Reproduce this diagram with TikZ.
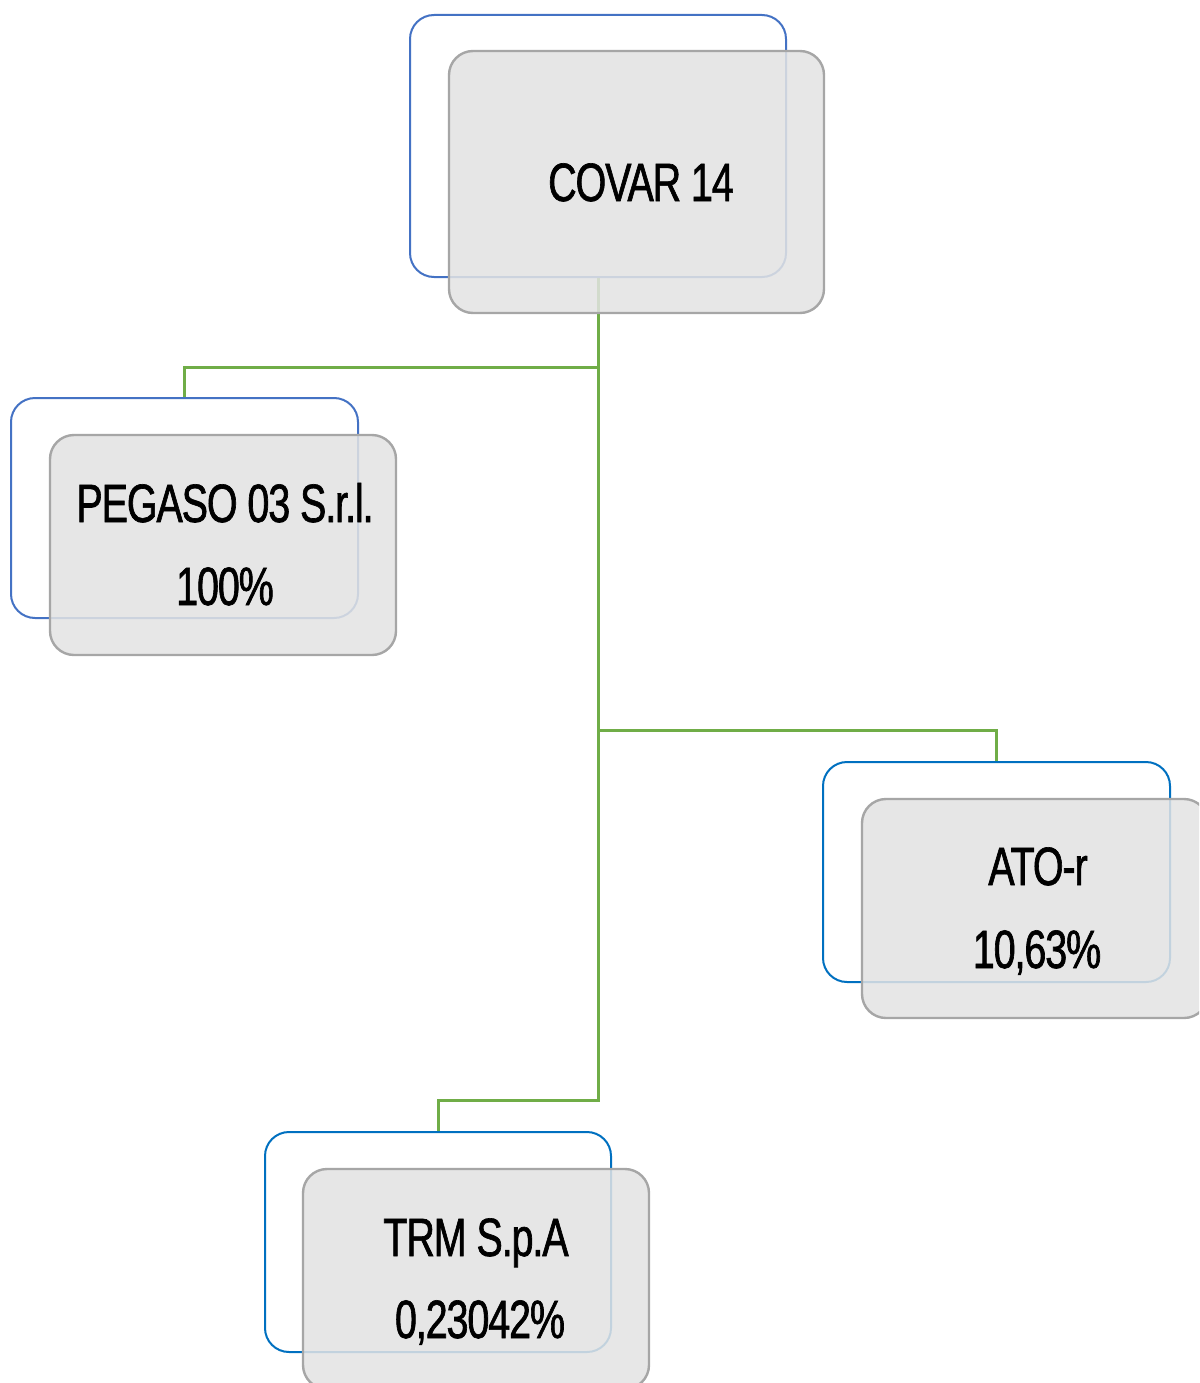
\documentclass[tikz,border=0pt]{standalone}
\usepackage{fontspec}
\newfontfamily\dinfont[FakeStretch=0.73,LetterSpace=-2,FakeBold=1.2]{Liberation Sans}
\definecolor{frameA}{HTML}{4472C4}
\definecolor{frameB}{HTML}{0070C0}
\definecolor{boxgray}{HTML}{E3E3E3}
\definecolor{boxline}{HTML}{A6A6A6}
\definecolor{conngreen}{HTML}{70AD47}
\tikzset{
  backframe/.style={draw=#1, line width=2pt, fill=white, rounded corners=24pt, inner sep=0pt},
  frontbox/.style={draw=boxline, line width=2.4pt, fill=boxgray, fill opacity=0.86, draw opacity=1, rounded corners=24pt, inner sep=0pt},
  conn/.style={draw=conngreen, line width=3pt},
  lbl/.style={font=\dinfont\fontsize{54}{60}\selectfont, anchor=base, inner sep=0pt, text=black}
}
\begin{document}
\begin{tikzpicture}[x=1pt,y=-1pt]
\useasboundingbox (0,0) rectangle (1199,1383);
\clip (0,0) rectangle (1199,1383);
% back frames
\node[backframe=frameA, minimum width=376pt, minimum height=262pt] (covarB) at (598,146) {};
\node[backframe=frameA, minimum width=347pt, minimum height=220pt] (pegB) at (184.5,508) {};
\node[backframe=frameB, minimum width=347pt, minimum height=220pt] (atoB) at (996.5,872) {};
\node[backframe=frameB, minimum width=346pt, minimum height=220pt] (trmB) at (438,1242) {};
% connectors
\coordinate (j1) at (598,367);
\coordinate (j2) at (598,730);
\coordinate (j3) at (598,1100);
\draw[conn] (covarB.south) -- (j3) -| (trmB.north);
\draw[conn] (j1) -| (pegB.north);
\draw[conn] (j2) -| (atoB.north);
% front boxes
\node[frontbox, minimum width=375pt, minimum height=262pt] (covarF) at (636.5,182) {};
\node[frontbox, minimum width=346pt, minimum height=220pt] (pegF) at (223,545) {};
\node[frontbox, minimum width=346pt, minimum height=219pt] (atoF) at (1035,908.5) {};
\node[frontbox, minimum width=346pt, minimum height=220pt] (trmF) at (476,1279) {};
% labels
\node[lbl] (tcovar) at (641,201) {COVAR 14};
\node[lbl] (tpeg1) at (225,522) {PEGASO 03 S.r.l.};
\node[lbl] (tpeg2) at (225,605) {100\%};
\node[lbl] (tato1) at (1038,885) {ATO-r};
\node[lbl] (tato2) at (1037,968) {10,63\%};
\node[lbl] (ttrm1) at (476,1256) {TRM S.p.A};
\node[lbl] (ttrm2) at (480,1338) {0,23042\%};
\end{tikzpicture}
\end{document}
